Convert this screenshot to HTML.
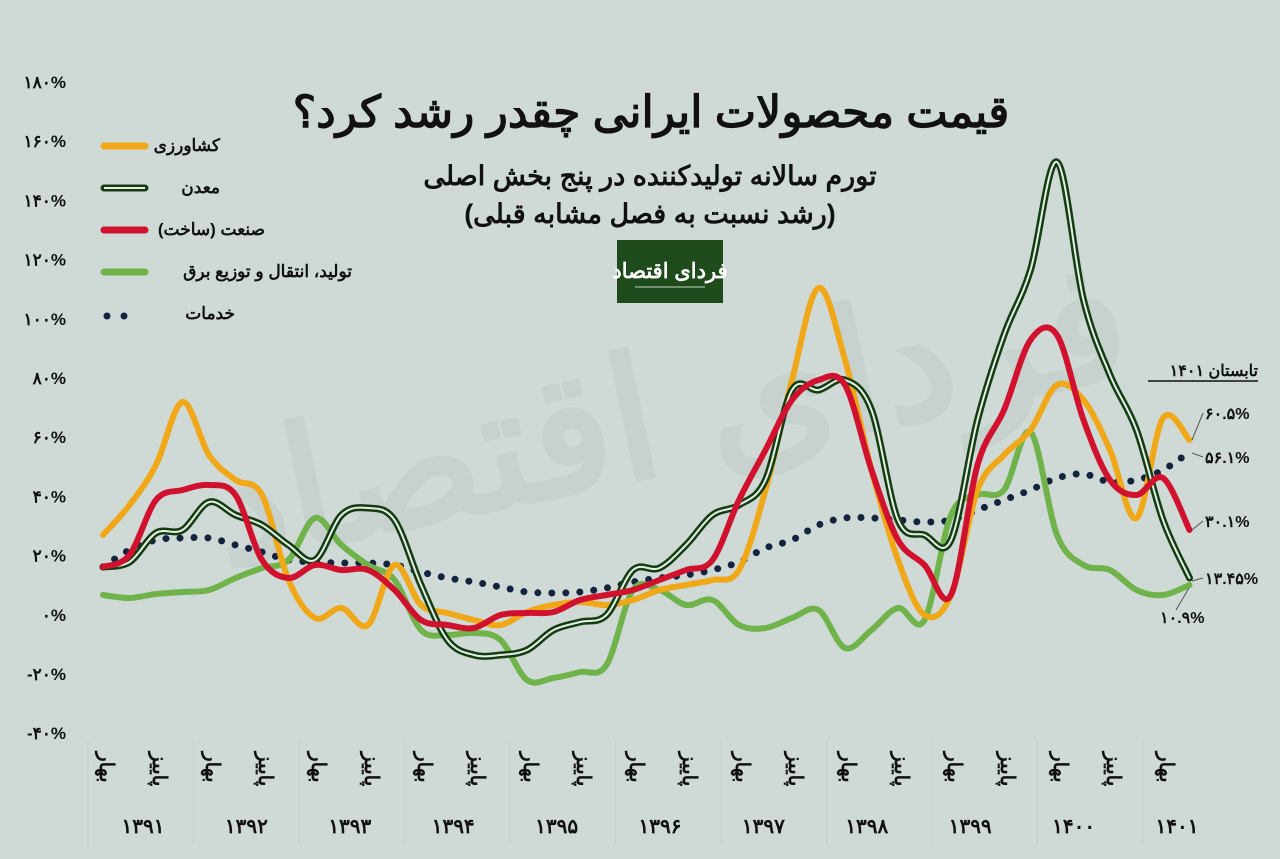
<!DOCTYPE html>
<html><head><meta charset="utf-8"><style>
body{margin:0;background:#cfdad6;}
svg{display:block;font-family:"Liberation Sans","Noto Sans CJK SC",sans-serif;}
</style></head><body>
<svg id="s" width="1280" height="859" viewBox="0 0 1280 859" xmlns="http://www.w3.org/2000/svg">
<rect width="1280" height="859" fill="#cfdad6"/>
<text x="680" y="470" font-size="170" font-weight="bold" fill="#c7d2ce" text-anchor="middle" transform="rotate(-12 680 470)" direction="rtl">فردای اقتصاد</text>
<g id="grid" stroke="#c4d0cb" stroke-width="1"></g>
<g font-size="17" font-weight="bold" fill="#111" text-anchor="end" id="yl"></g>
<text x="651" y="127" font-size="44" font-weight="bold" text-anchor="middle" fill="#111" direction="rtl">قیمت محصولات ایرانی چقدر رشد کرد؟</text>
<text x="650" y="185" font-size="27" font-weight="bold" text-anchor="middle" fill="#111" direction="rtl">تورم سالانه تولیدکننده در پنج بخش اصلی</text>
<text x="650" y="223" font-size="27" font-weight="bold" text-anchor="middle" fill="#111" direction="rtl">(رشد نسبت به فصل مشابه قبلی)</text>
<rect x="617" y="240" width="106" height="63" fill="#1f4a1c"/>
<text x="670" y="278" font-size="21" font-weight="bold" fill="#fff" text-anchor="middle" direction="rtl">فردای اقتصاد</text>
<line x1="635" y1="287" x2="705" y2="287" stroke="#fff" stroke-width="0.8"/>
<g font-size="17" font-weight="bold" fill="#111" text-anchor="start" direction="rtl">
<text x="220" y="151">کشاورزی</text>
<text x="220" y="193">معدن</text>
<text x="265" y="235">صنعت (ساخت)</text>
<text x="352" y="277">تولید، انتقال و توزیع برق</text>
<text x="235" y="319">خدمات</text>
</g>
<line x1="104" y1="146" x2="145" y2="146" stroke="#f0a818" stroke-width="7" stroke-linecap="round"/>
<line x1="104" y1="188" x2="145" y2="188" stroke="#153d12" stroke-width="7" stroke-linecap="round"/>
<line x1="104" y1="188" x2="145" y2="188" stroke="#e6eee8" stroke-width="2"/>
<line x1="104" y1="230" x2="145" y2="230" stroke="#d0122f" stroke-width="7" stroke-linecap="round"/>
<line x1="104" y1="272" x2="145" y2="272" stroke="#6fb34a" stroke-width="7" stroke-linecap="round"/>
<circle cx="107" cy="316" r="3.5" fill="#14243f"/><circle cx="124" cy="316" r="3.5" fill="#14243f"/>
<g id="series" fill="none" stroke-linecap="round" stroke-linejoin="round"></g>
<g id="xl" font-size="20" font-weight="bold" fill="#111"></g>
<g font-size="16" font-weight="bold" fill="#111">
<text x="1258" y="376" text-anchor="start" direction="rtl">تابستان ۱۴۰۱</text>
<line x1="1148" y1="381" x2="1258" y2="381" stroke="#111" stroke-width="1.5"/>
<text x="1205" y="419">۶۰.۵%</text>
<text x="1205" y="463">۵۶.۱%</text>
<text x="1205" y="527">۳۰.۱%</text>
<text x="1205" y="584">۱۳.۴۵%</text>
<text x="1160" y="623">۱۰.۹%</text>
</g>
<g stroke="#555" stroke-width="1" fill="none">
<path d="M1192 440 L1203 413"/><path d="M1192 453 L1203 457"/><path d="M1192 530 L1203 521"/><path d="M1192 581 L1203 578"/><path d="M1189 588 L1176 610"/>
</g>
</svg>
<script>
const NS="http://www.w3.org/2000/svg";
function el(t,a,p,txt){const e=document.createElementNS(NS,t);for(const k in a)e.setAttribute(k,a[k]);if(txt!==undefined)e.textContent=txt;document.getElementById(p).appendChild(e);return e;}
const fa=n=>String(n).replace(/\d/g,d=>"۰۱۲۳۴۵۶۷۸۹"[d]);
for(let v=180,i=0;v>=-40;v-=20,i++){const y=82+i*59.2;el("text",{x:66,y:y+6},"yl",fa(v<0?"-"+(-v):v)+"%");}
for(let k=0;k<=10;k++){const x=88+k*105.5;el("line",{x1:x,y1:740,x2:x,y2:845},"grid");}
for(let k=0;k<=10;k++){const x=103+k*106;
 el("text",{x:0,y:0,transform:`translate(${x-3},752) rotate(90)`},"xl","بهار");
 if(k<10)el("text",{x:0,y:0,transform:`translate(${x+50},752) rotate(90)`},"xl","پاییز");
 el("text",{x:143+k*103.4,y:833,"text-anchor":"middle"},"xl",fa(1391+k));}
const X=i=>103+i*26.5;
function path(ys){const p=ys.map((y,i)=>[X(i),y]);let d=`M${p[0][0]} ${p[0][1]}`;
 for(let i=0;i<p.length-1;i++){const a=p[Math.max(0,i-1)],b=p[i],c=p[i+1],e=p[Math.min(p.length-1,i+2)];
 d+=` C${b[0]+(c[0]-a[0])/6} ${b[1]+(c[1]-a[1])/6} ${c[0]-(e[0]-b[0])/6} ${c[1]-(e[1]-b[1])/6} ${c[0]} ${c[1]}`;}return d;}
const agr=[535,505,465,402,455,480,495,580,618,608,625,565,605,613,620,625,612,605,602,605,600,590,585,580,570,490,380,288,360,470,560,615,595,490,455,430,385,400,450,518,418,440];
const min=[567,562,533,530,502,515,525,545,560,515,508,520,585,640,655,655,650,630,622,615,570,568,545,515,505,480,390,390,380,410,520,535,540,420,335,270,162,300,375,430,520,578];
const ind=[567,555,500,490,485,495,560,578,565,570,570,590,620,625,628,615,613,612,600,595,590,580,570,560,500,450,400,380,385,470,540,565,595,465,410,340,335,420,480,495,478,530];
const ele=[595,598,594,592,590,578,568,560,518,545,565,580,630,635,633,640,680,678,672,665,590,590,605,600,625,628,618,610,648,630,608,620,515,495,490,432,535,565,570,590,595,585];
const ser=[567,550,540,538,538,545,552,560,562,563,563,565,572,578,582,587,592,593,592,588,582,578,575,570,562,548,540,525,518,518,520,522,520,510,500,490,478,474,482,480,470,452];
el("path",{d:path(ser),stroke:"#14243f","stroke-width":7,"stroke-dasharray":"0 14"},"series");
el("path",{d:path(ele),stroke:"#6fb34a","stroke-width":6},"series");
el("path",{d:path(agr),stroke:"#f0a818","stroke-width":6},"series");
el("path",{d:path(min),stroke:"#153d12","stroke-width":7},"series");
el("path",{d:path(min),stroke:"#e6eee8","stroke-width":2},"series");
el("path",{d:path(ind),stroke:"#d0122f","stroke-width":6},"series");
</script>
</body></html>
